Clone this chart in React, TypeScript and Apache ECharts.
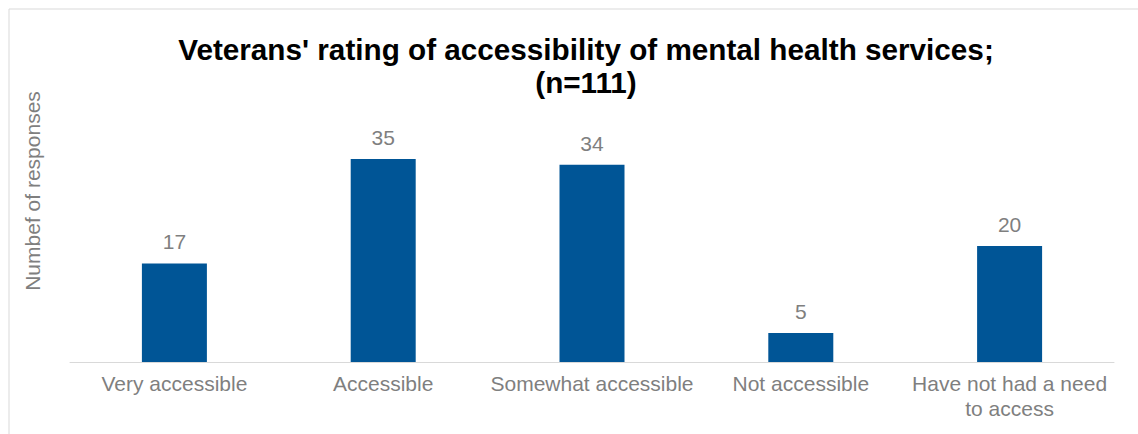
import React, { useEffect, useRef } from "react";
import * as echarts from "echarts";

const categories = [
  "Very accessible",
  "Accessible",
  "Somewhat accessible",
  "Not accessible",
  "Have not had a need\nto access",
];
const responses = [17, 35, 34, 5, 20];
const titleText = "Veterans' rating of accessibility of mental health services;\n(n=111)";
const yAxisName = "Numbef of responses";

const FONT = "Liberation Sans, Arial, sans-serif";

export default function App() {
  const ref = useRef<HTMLDivElement>(null);
  useEffect(() => {
    const chart = echarts.init(ref.current!, undefined, { renderer: "svg" });
    chart.setOption({
      animation: false,
      backgroundColor: "#ffffff",
      title: {
        text: titleText,
        left: 581,
        top: 28,
        textAlign: "center",
        textStyle: {
          fontFamily: FONT,
          fontSize: 29.7,
          fontWeight: "bold",
          color: "#000000",
          lineHeight: 33,
        },
      },
      graphic: [
        {
          type: "rect",
          shape: { x: 9, y: 9, width: 1140, height: 440 },
          style: { fill: "none", stroke: "#d9d9d9", lineWidth: 1 },
          silent: true,
        },
        {
          type: "text",
          x: 32,
          y: 191,
          rotation: Math.PI / 2,
          style: {
            text: yAxisName,
            fontFamily: FONT,
            fontSize: 21,
            fill: "#7f7f7f",
            align: "center",
            verticalAlign: "middle",
          },
        },
      ],
      grid: { left: 70, right: 24, top: 130, bottom: 72 },
      xAxis: {
        type: "category",
        data: categories,
        axisLine: { lineStyle: { color: "#d9d9d9", width: 1 } },
        axisTick: { show: false },
        axisLabel: {
          fontFamily: FONT,
          fontSize: 21,
          color: "#7f7f7f",
          lineHeight: 25,
          margin: 9,
          interval: 0,
        },
      },
      yAxis: {
        type: "value",
        min: 0,
        max: 40,
        interval: 10,
        axisLabel: { show: false },
        splitLine: { show: false },
        axisLine: { show: false },
        axisTick: { show: false },
      },
      series: [
        {
          type: "bar",
          data: responses,
          barWidth: 65,
          itemStyle: { color: "#005596" },
          label: {
            show: true,
            position: "top",
            distance: 11,
            fontFamily: FONT,
            fontSize: 21,
            color: "#7f7f7f",
          },
        },
      ],
    });
    return () => chart.dispose();
  }, []);
  return (
    <div
      ref={ref}
      style={{ position: "fixed", left: 0, top: 0, width: 1138, height: 434 }}
    />
  );
}
